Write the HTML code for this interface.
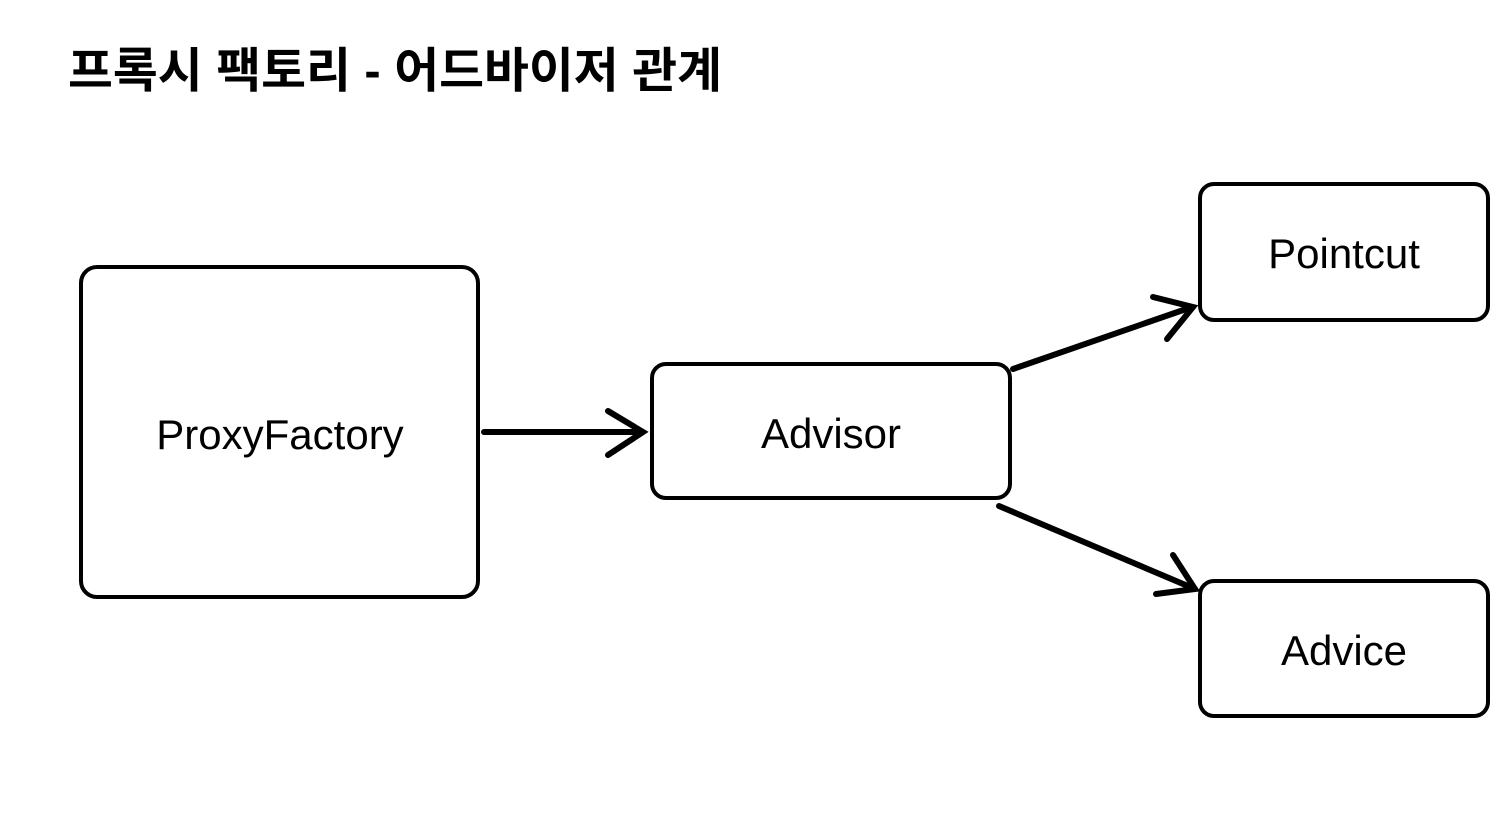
<!DOCTYPE html>
<html><head><meta charset="utf-8"><style>
html,body{margin:0;padding:0;background:#fff;}
body{width:1506px;height:814px;overflow:hidden;position:relative;}
</style></head><body>
<svg width="1506" height="814" xmlns="http://www.w3.org/2000/svg" style="position:absolute;left:0;top:0">
<text x="68" y="87" font-family="'Liberation Sans','Noto Sans CJK KR',sans-serif" font-weight="bold" font-size="48" textLength="654" lengthAdjust="spacingAndGlyphs" fill="#000">프록시 팩토리 - 어드바이저 관계</text>
<g fill="none" stroke="#000" stroke-width="4">
<rect x="81" y="267" width="397" height="330" rx="16"/>
<rect x="652" y="364" width="358" height="134" rx="14"/>
<rect x="1200" y="184" width="288" height="136" rx="14"/>
<rect x="1200" y="581" width="288" height="135" rx="14"/>
</g>
<g font-family="'Liberation Sans',sans-serif" font-size="42" fill="#000" text-anchor="middle">
<text x="280" y="449">ProxyFactory</text>
<text x="831" y="448">Advisor</text>
<text x="1344" y="268">Pointcut</text>
<text x="1344" y="665">Advice</text>
</g>
<g stroke="#000" stroke-width="6" fill="none" stroke-linecap="round">
<line x1="484" y1="432" x2="642" y2="432"/>
<polyline points="608,411 643,432 608,455"/>
<line x1="1013" y1="369" x2="1192" y2="307"/>
<polyline points="1153,297 1193,307 1167,339"/>
<line x1="999" y1="506" x2="1195" y2="589"/>
<polyline points="1173,555 1195,589 1156,594"/>
</g>
</svg>
</body></html>
